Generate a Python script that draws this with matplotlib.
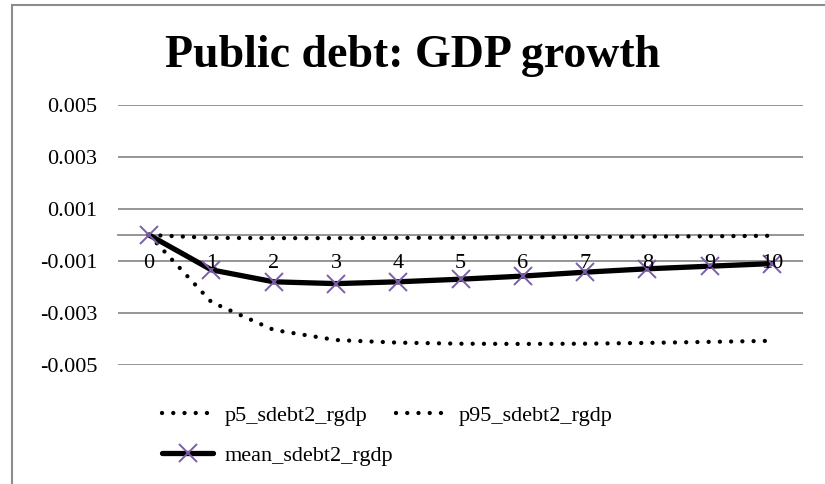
import matplotlib
matplotlib.use("Agg")
import matplotlib.pyplot as plt
from matplotlib.patches import Rectangle

categories = [0, 1, 2, 3, 4, 5, 6, 7, 8, 9, 10]
p5_sdebt2_rgdp = [0.0, -0.00258, -0.00365, -0.00404, -0.00414, -0.00418, -0.00419, -0.00418, -0.00415, -0.00411, -0.00407]
p95_sdebt2_rgdp = [0.0, -0.00011, -0.00012, -0.00012, -0.00011, -0.00010, -0.00009, -0.00008, -0.00006, -0.00005, -0.00003]
mean_sdebt2_rgdp = [0.0, -0.00134, -0.00180, -0.00187, -0.00180, -0.00170, -0.00158, -0.00143, -0.00130, -0.00120, -0.00110]
yticks = [-0.005, -0.003, -0.001, 0.001, 0.003, 0.005]
ytick_labels = ["-0.005", "-0.003", "-0.001", "0.001", "0.003", "0.005"]
title = "Public debt: GDP growth"

plt.rcParams['font.family'] = ['Liberation Serif', 'DejaVu Serif']

W, H = 825, 484
fig = plt.figure(figsize=(W / 100, H / 100), dpi=100)
ax = fig.add_axes([118 / W, 1 - 365 / H, (803 - 118) / W, (365 - 105) / H])

grid_color = '#8c8c8c'
x = list(range(len(categories)))

for s in ['top', 'right', 'left']:
    ax.spines[s].set_visible(False)
ax.spines['bottom'].set_position(('data', 0))
ax.spines['bottom'].set_color(grid_color)
ax.spines['bottom'].set_linewidth(1.3)
ax.spines['bottom'].set_zorder(2)

dot_style = (0, (0.01, 2.6))
ax.plot(x, p5_sdebt2_rgdp, color='black', lw=3.1, linestyle=dot_style,
        dash_capstyle='round', label='p5_sdebt2_rgdp', zorder=3)
ax.plot(x, p95_sdebt2_rgdp, color='black', lw=3.1, linestyle=dot_style,
        dash_capstyle='round', label='p95_sdebt2_rgdp', zorder=3)
ax.plot(x, mean_sdebt2_rgdp, color='black', lw=3.8, solid_capstyle='round',
        marker='x', markersize=13, markeredgewidth=1.4, markeredgecolor='#7b5ea7',
        label='mean_sdebt2_rgdp', zorder=4)

ax.set_xlim(-0.5, len(categories) - 0.5)
ax.set_ylim(-0.005, 0.005)
ax.set_yticks(yticks)
ax.set_yticklabels(ytick_labels, fontsize=16)
ax.yaxis.grid(True, color=grid_color, lw=1.3)
ax.set_axisbelow(True)
ax.tick_params(axis='y', length=0, pad=15)

ax.set_xticks(x)
ax.set_xticklabels([str(c) for c in categories], fontsize=16)
ax.tick_params(axis='x', length=0, pad=14)
ax.xaxis.set_zorder(5)

fig.text(413 / W, 1 - 56 / H, title, ha='center', va='center',
         fontsize=33, fontweight='bold')

handles, labels = ax.get_legend_handles_labels()
order = [0, 2, 1]
fig.legend([handles[i] for i in order], [labels[i] for i in order], ncol=2,
           loc='upper left', bbox_to_anchor=(162 / W, 1 - 405 / H),
           frameon=False, fontsize=16, handlelength=2.3, handletextpad=0.5,
           columnspacing=0.15, labelspacing=0.9, borderpad=0, borderaxespad=0)

fig.add_artist(Rectangle((12 / W, -0.1), 1.2, 1.1 - 5 / H, transform=fig.transFigure,
                         fill=False, edgecolor='#8c8c8c', lw=1.5))

fig.savefig('out.png', dpi=100)
